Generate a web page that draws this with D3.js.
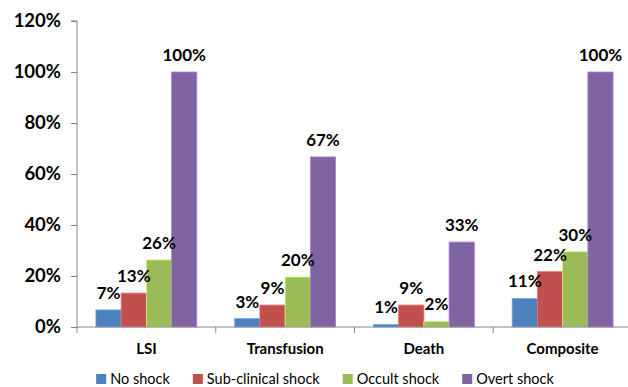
<!DOCTYPE html>
<html>
<head>
<meta charset="utf-8">
<script src="https://cdn.jsdelivr.net/npm/d3@7"></script>
<style>
  html, body { margin: 0; padding: 0; background: #fff; }
  svg { display: block; font-family: Lato, "Open Sans", sans-serif; }
</style>
</head>
<body>
<svg id="chart" width="628" height="387"></svg>
<script>
// Outcome categories along the x axis
const categories = ["LSI", "Transfusion", "Death", "Composite"];

// Shock groups (one bar per group in every category)
const seriesNames = ["No shock", "Sub-clinical shock", "Occult shock", "Overt shock"];
const seriesColors = ["#4F81BD", "#C0504D", "#9BBB59", "#8064A2"];

// Percentages per shock group, in category order
const noShock         = [6.7, 3.3, 1.0, 11.2];
const subClinical     = [13.3, 8.6, 8.6, 21.7];
const occultShock     = [26.3, 19.6, 2.2, 29.5];
const overtShock      = [100, 66.7, 33.3, 100];
const seriesValues = [noShock, subClinical, occultShock, overtShock];

// Y-axis ticks
const yTicks = [0, 20, 40, 60, 80, 100, 120];

const svg = d3.select("#chart");
const plot = { left: 77, right: 632, top: 21, bottom: 327 };

const x0 = d3.scaleBand().domain(categories).range([plot.left, plot.right]).padding(0);
const x1 = d3.scaleBand().domain(seriesNames).range([0, x0.bandwidth()])
  .paddingInner(0).paddingOuter(0.75);
const y = d3.scaleLinear().domain([0, 120]).range([plot.bottom, plot.top]);

const axisColor = "#868686";

// Y axis
const yAxis = svg.append("g")
  .attr("transform", `translate(${plot.left},0)`)
  .call(d3.axisLeft(y).tickValues(yTicks).tickSize(6).tickPadding(10)
    .tickFormat(d => d + "%"));
yAxis.select(".domain").attr("stroke", axisColor).attr("d", `M-6,${y(120)}H0V${plot.bottom}`);
yAxis.selectAll(".tick line").attr("stroke", axisColor);
yAxis.selectAll(".tick text")
  .attr("font-family", "Lato, sans-serif")
  .attr("font-size", 18.5).attr("font-weight", 700).attr("fill", "#000");

// Bars
const groups = svg.append("g").selectAll("g")
  .data(categories)
  .join("g")
  .attr("transform", d => `translate(${x0(d)},0)`);

const barData = (c, ci) => seriesNames.map((s, si) => ({ s, si, v: seriesValues[si][ci] }));

groups.selectAll("rect")
  .data((c, ci) => barData(c, ci))
  .join("rect")
  .attr("x", d => x1(d.s))
  .attr("width", x1.bandwidth())
  .attr("y", d => y(d.v))
  .attr("height", d => y(0) - y(d.v))
  .attr("fill", d => seriesColors[d.si])
  .attr("stroke", d => d3.color(seriesColors[d.si]).brighter(0.8))
  .attr("stroke-width", 0.8);

// Value labels above bars
groups.selectAll("text")
  .data((c, ci) => barData(c, ci))
  .join("text")
  .attr("x", d => x1(d.s) + x1.bandwidth() / 2)
  .attr("y", d => y(d.v) - 11)
  .attr("text-anchor", "middle")
  .attr("font-size", 17).attr("font-weight", 700).attr("fill", "#000")
  .text(d => Math.round(d.v) + "%");

// X axis
const xAxisG = svg.append("g");
xAxisG.append("line")
  .attr("x1", plot.left).attr("x2", plot.right)
  .attr("y1", plot.bottom).attr("y2", plot.bottom)
  .attr("stroke", axisColor);
xAxisG.selectAll("line.tick")
  .data(categories)
  .join("line")
  .attr("class", "tick")
  .attr("x1", d => x0(d)).attr("x2", d => x0(d))
  .attr("y1", plot.bottom).attr("y2", plot.bottom + 6)
  .attr("stroke", axisColor);
xAxisG.selectAll("text")
  .data(categories)
  .join("text")
  .attr("x", d => x0(d) + x0.bandwidth() / 2)
  .attr("y", 354)
  .attr("text-anchor", "middle")
  .attr("font-size", 15).attr("font-weight", 700).attr("fill", "#000")
  .text(d => d);

// Legend
const legend = svg.append("g");
const items = legend.selectAll("g")
  .data(seriesNames)
  .join("g");
items.append("rect")
  .attr("width", 10).attr("height", 10)
  .attr("y", 374)
  .attr("fill", (d, i) => seriesColors[i]);
items.append("text")
  .attr("x", 14).attr("y", 384)
  .attr("font-size", 14.5).attr("fill", "#000")
  .text(d => d);
let cursor = 0;
const offsets = [];
items.each(function () {
  offsets.push(cursor);
  const w = d3.select(this).select("text").node().getComputedTextLength();
  cursor += 14 + w + 23;
});
const totalW = cursor - 23;
const startX = 325 - totalW / 2;
items.attr("transform", (d, i) => `translate(${startX + offsets[i]},0)`);
</script>
</body>
</html>
